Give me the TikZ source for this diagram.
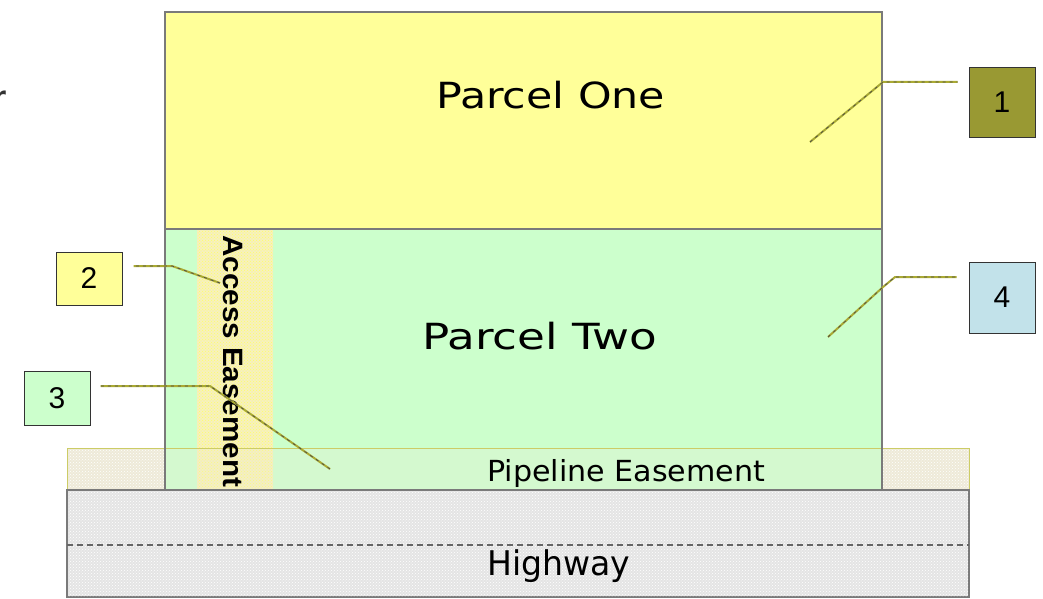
\documentclass[tikz,border=0pt]{standalone}
\usepackage{fontspec}
\setmainfont{DejaVu Sans}
\newfontfamily\arialf{Liberation Sans}
\usetikzlibrary{patterns,calc}
\definecolor{parcelyellow}{HTML}{FFFF99}
\definecolor{parcelgreen}{HTML}{CCFFCC}
\definecolor{oliveA}{HTML}{999933}
\definecolor{leaderol}{HTML}{AAAA33}
\definecolor{lightblueA}{HTML}{C2E2EA}
\definecolor{easebeige}{HTML}{EEEAD8}
\definecolor{accessbeige}{HTML}{F6F0BE}
\definecolor{roadgray}{HTML}{E4E4E4}
\definecolor{edgegray}{HTML}{7A7A7A}
\definecolor{pipeedge}{HTML}{CCCC66}
\newcommand\fitlabel[3]{\resizebox{#1}{\height}{\fontsize{#2}{#2}\selectfont #3}}
\begin{document}
\begin{tikzpicture}[x=1pt,y=-1pt,
  region/.style={draw=edgegray, line width=1.5pt},
  numbox/.style={draw=black!80, line width=1pt, minimum width=66pt, inner sep=0pt,
    font=\arialf\fontsize{30}{30}\selectfont},
  leader/.style={draw=leaderol, line width=2pt, line join=round,
    postaction={draw=black!70, line width=0.7pt, dash pattern=on 3pt off 4pt}},
  lbl/.style={anchor=base west, inner sep=0pt, text=black},
]
\useasboundingbox (0,0) rectangle (1043,599);
\fill[white] (0,0) rectangle (1043,599);

% cropped glyph at the left edge
\node[anchor=base west, inner sep=0pt, text=black!80,
  font=\bfseries\fontsize{26}{26}\selectfont] (cutr) at (-7,106) {r};

% Parcel One
\draw[region, fill=parcelyellow] (165,12) rectangle (882,229);

% Pipeline easement base
\fill[easebeige] (67,448) rectangle (969,490);
\fill[pattern=crosshatch dots, pattern color=white] (67,448) rectangle (969,490);

% Parcel Two
\fill[parcelgreen] (165,229) rectangle (882,490);
% Access easement strip
\fill[accessbeige] (197,229) rectangle (273,490);
\fill[pattern=crosshatch dots, pattern color=yellow!60] (197,229) rectangle (273,490);
% translucent pipeline overlay over parcel two
\fill[easebeige, opacity=0.25] (165,448) rectangle (882,490);
\draw[pipeedge, line width=1pt] (67,448) rectangle (969,490);
\draw[region] (165,490) -- (165,229) -- (882,229) -- (882,490);

% Highway
\draw[region, fill=roadgray] (67,490) rectangle (969,597);
\fill[pattern=crosshatch dots, pattern color=white] (68,491) rectangle (968,596);
\draw[black!60, line width=1.2pt, dash pattern=on 6pt off 4pt] (67,545) -- (969,545);

% Labels
\node[lbl] (p1) at (436,109) {\fitlabel{229pt}{36}{Parcel One}};
\node[lbl] (p2) at (422,349) {\fitlabel{235pt}{36}{Parcel Two}};
\node[lbl] (pe) at (487,481) {\fitlabel{278pt}{29}{Pipeline Easement}};
\node[lbl] (hw) at (487,575) {\fitlabel{143pt}{34}{Highway}};
\node[lbl, rotate=-90] (ae) at (223,235)
  {\resizebox{252pt}{\height}{\arialf\bfseries\fontsize{28}{28}\selectfont Access Easement}};

% Number boxes
\node[numbox, fill=oliveA, minimum height=69pt] (b1) at (1002,102.5) {1};
\node[numbox, fill=parcelyellow, minimum height=53pt] (b2) at (89,278.5) {2};
\node[numbox, fill=parcelgreen, minimum height=54pt] (b3) at (57,398) {3};
\node[numbox, fill=lightblueA, minimum height=71pt] (b4) at (1002,297.5) {4};

% Leader lines
\coordinate (l1a) at (810,142);
\coordinate (l1b) at (883,82);
\draw[leader, shorten >=11pt] (l1a) -- (l1b) -- (l1b -| b1.west);

\coordinate (l2a) at (220,283);
\coordinate (l2b) at (172,266);
\draw[leader, shorten >=11pt] (l2a) -- (l2b) -- (l2b -| b2.east);

\coordinate (l3a) at (330,469);
\coordinate (l3b) at (210,386);
\draw[leader, shorten >=10pt] (l3a) -- (l3b) -- (l3b -| b3.east);

\coordinate (l4a) at (828,337);
\coordinate (l4b) at (883,287);
\coordinate (l4c) at (895,277);
\draw[leader, shorten >=12pt] (l4a) -- (l4b) -- (l4c) -- (l4c -| b4.west);
\end{tikzpicture}
\end{document}
